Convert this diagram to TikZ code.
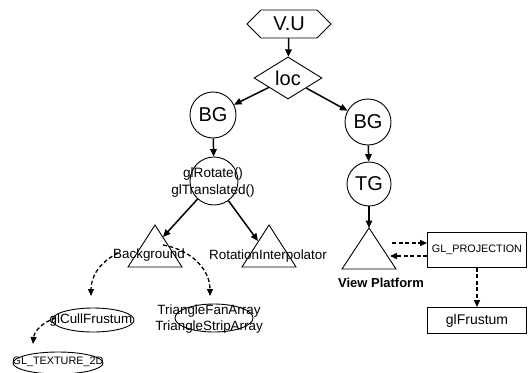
\documentclass[tikz,border=0pt]{standalone}
\usepackage{fontspec}
\setmainfont{Liberation Sans}
\usetikzlibrary{arrows.meta,shapes.geometric}
\begin{document}
\begin{tikzpicture}[x=1pt,y=-1pt,
  big/.style={font=\fontsize{20}{20}\selectfont},
  small/.style={font=\fontsize{13.4}{16}\selectfont, align=center, inner sep=0},
  tiny/.style={font=\fontsize{10.8}{13}\selectfont, inner sep=0},
  circ/.style={draw, circle, line width=0.9pt, minimum size=46pt, inner sep=0},
  ell/.style={draw, ellipse, line width=0.9pt, inner sep=0},
  box/.style={draw, rectangle, line width=0.9pt, inner sep=0},
  shp/.style={draw, line width=0.9pt, line join=miter},
  arr/.style={-{Triangle[length=7.5pt,width=6.5pt]}, line width=1.5pt},
  darr/.style={-{Triangle[length=7pt,width=6pt]}, line width=1.3pt, dash pattern=on 4pt off 2.5pt}
]
\useasboundingbox (0,0) rectangle (529,372);

% top hexagon and diamond
\draw[shp] (247,24) -- (261,10) -- (317,10) -- (331,24) -- (317,38) -- (261,38) -- cycle;
\node[big, minimum height=28pt, inner sep=0] (vu) at (289,24) {V.U};
\node[draw, diamond, aspect=1.62, minimum width=68pt, minimum height=42pt, inner sep=0, line width=0.9pt, big] (loc) at (288,78) {loc};

% circles
\node[circ, big] (bgl) at (213,115) {BG};
\node[circ, big] (bgr) at (368,122) {BG};
\node[circ, big, minimum size=44pt] (tg) at (369,184) {TG};
\node[circ, minimum size=48pt] (glr) at (214,181) {};
\node[small, font=\fontsize{13.6}{17}\selectfont] (glrtext) at (213,182.5) {glRotate()\\glTranslated()};

% triangles
\draw[shp] (155,225) -- (182,267) -- (128,267) -- cycle;
\draw[shp] (269,225) -- (296,267) -- (242,267) -- cycle;
\draw[shp] (369,228) -- (396,269) -- (342,269) -- cycle;
\node[small] (bglab) at (149,255) {Background};
\node[small] (rilab) at (268,256) {RotationInterpolator};
\node[small, font=\fontsize{13}{16}\bfseries] (vplab) at (381,283) {View Platform};
\coordinate (bgtri) at (163,237);
\coordinate (ritri) at (258,241);
\coordinate (vptop) at (369,228);

% ellipses
\node[ell, minimum width=82pt, minimum height=24pt] (cull) at (93,320) {};
\node[small] (culltext) at (91,320) {glCullFrustum};
\node[ell, minimum width=78pt, minimum height=28pt] (fan) at (214,318) {};
\node[small] (fantext) at (209,319.5) {TriangleFanArray\\TriangleStripArray};
\node[ell, minimum width=90pt, minimum height=22pt] (tex) at (58,363) {};
\node[tiny] (textext) at (58,362) {GL\_TEXTURE\_2D};

% boxes
\node[box, tiny, minimum width=99pt, minimum height=35pt] (proj) at (477,250) {GL\_PROJECTION};
\node[box, font=\fontsize{14}{16}\selectfont, minimum width=99pt, minimum height=26pt] (frust) at (477,320.5) {glFrustum};

% solid arrows
\draw[arr] (vu) -- (loc);
\draw[arr] (loc) -- (bgl);
\draw[arr] (loc) -- (bgr);
\draw[arr] (bgl) -- (glr);
\draw[arr] (bgr) -- (tg);
\draw[arr] (glr) -- (bgtri);
\draw[arr] (glr) -- (ritri);
\draw[arr] (tg) -- (vptop);

% dashed arrows
\coordinate (bgL) at (118,253);
\coordinate (cullT) at (91,296);
\draw[darr] (bgL) .. controls (100,262) and (91,276) .. (cullT);
\coordinate (bgR) at (163,245);
\coordinate (fanT) at (210,296);
\draw[darr] (bgR) .. controls (192,250) and (210,270) .. (fanT);
\coordinate (cullL) at (56,318);
\coordinate (texT) at (33,344);
\draw[darr] (cullL) .. controls (42,322) and (34,332) .. (texT);
\coordinate (vpa) at (392,243);
\coordinate (vpb) at (390,256);
\draw[darr] (vpa) -- (proj.west |- vpa);
\draw[darr] (proj.west |- vpb) -- (vpb);
\draw[darr] (proj) -- (frust);
\end{tikzpicture}
\end{document}
